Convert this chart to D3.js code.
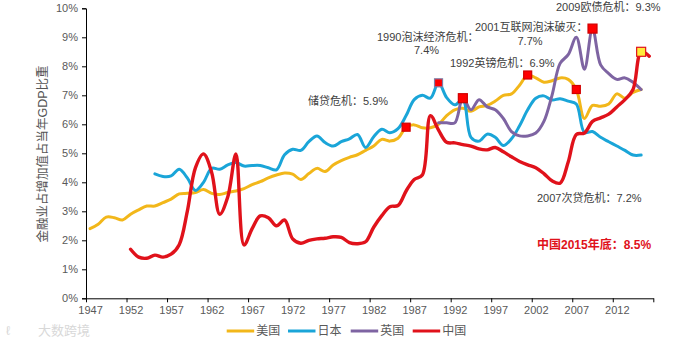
<!DOCTYPE html>
<html><head><meta charset="utf-8">
<script src="https://cdn.jsdelivr.net/npm/d3@7"></script>
<style>
html,body{margin:0;padding:0;background:#fff;}
svg{display:block;}
text{font-family:"Liberation Sans",Arial,"Noto Sans CJK SC",sans-serif;}
.cjk{font-family:"Liberation Sans","Noto Sans CJK SC",sans-serif;}
</style></head>
<body>
<svg id="chart" width="689" height="346"></svg>
<script>
// ---- data ----
const usYears = d3.range(1947, 2016);
const usValues = [2.4,2.55,2.8,2.78,2.7,2.9,3.05,3.18,3.18,3.3,3.42,3.6,3.62,3.65,3.75,3.62,3.58,3.65,3.7,3.78,3.92,4.02,4.15,4.25,4.32,4.28,4.1,4.3,4.48,4.37,4.6,4.75,4.86,4.95,5.1,5.25,5.48,5.42,5.52,5.9,5.98,5.88,5.88,6.0,6.3,6.5,6.55,6.45,6.6,6.65,6.8,7.0,7.05,7.35,7.7,7.6,7.45,7.5,7.6,7.55,7.2,6.2,6.65,6.62,6.7,7.05,6.9,7.1,7.2];
const jpYears = d3.range(1955, 2016);
const jpValues = [4.29,4.2,4.22,4.45,4.15,3.72,4.0,4.48,4.45,4.6,4.68,4.56,4.58,4.58,4.5,4.43,4.95,5.14,5.1,5.4,5.6,5.37,5.25,5.4,5.5,5.65,5.2,5.57,5.83,5.71,5.85,6.3,6.85,7.0,6.9,7.43,6.92,6.67,6.85,5.55,5.42,5.66,5.55,5.27,5.5,5.95,6.5,6.9,6.98,6.84,6.88,6.8,6.7,5.72,5.75,5.55,5.4,5.25,5.1,4.94,4.94];
const ukYears = d3.range(1990, 2016);
const ukValues = [6.05,6.05,6.05,6.9,6.5,6.85,6.6,6.5,6.2,5.75,5.6,5.6,5.7,6.1,7.0,8.1,8.4,9.0,7.9,9.3,8.05,7.75,7.55,7.6,7.45,7.2];
const cnYears = d3.range(1952, 2017);
const cnValues = [1.69,1.42,1.38,1.49,1.42,1.52,1.85,3.0,4.5,4.98,4.35,2.9,3.5,4.98,1.84,2.4,2.84,2.78,2.5,2.7,2.05,1.9,2.0,2.05,2.07,2.12,2.1,1.92,1.88,1.95,2.45,2.85,3.16,3.2,3.7,4.1,4.25,6.3,5.8,5.38,5.36,5.3,5.25,5.15,5.12,5.2,5.05,4.88,4.72,4.6,4.5,4.3,4.05,3.97,4.7,5.65,5.7,6.1,6.22,6.35,6.6,6.85,7.2,8.5,8.35];

const seriesNames = ["美国","日本","英国","中国"];
const seriesColors = ["#F2B71A","#1AA5D8","#7E64A2","#E0121B"];

const xTickLabels = [1947,1952,1957,1962,1967,1972,1977,1982,1987,1992,1997,2002,2007,2012];
const yTickValues = [0,1,2,3,4,5,6,7,8,9,10];

// crisis markers: series index, year
const markerSeries = [0,1,2,0,0,2,3];
const markerYears  = [1986,1990,1993,2001,2007,2009,2015];

const annTexts = ["储贷危机：5.9%","1990泡沫经济危机：","7.4%","1992英镑危机：6.9%","2001互联网泡沫破灭：","7.7%","2009欧债危机：9.3%","2007次贷危机：7.2%"];

// ---- drawing ----
const svg = d3.select("#chart");
const x = d3.scaleLinear().domain([1946.5, 2016.5]).range([86, 653.3]);
const y = d3.scaleLinear().domain([0, 10]).range([298.3, 8.3]);

const all = [
  {years: usYears, values: usValues},
  {years: jpYears, values: jpValues},
  {years: ukYears, values: ukValues},
  {years: cnYears, values: cnValues}
];

// y axis
const yAxis = d3.axisLeft(y).tickValues(yTickValues).tickFormat(d => d + "%").tickSize(4).tickPadding(4);
const gy = svg.append("g").attr("transform","translate(86,0)").call(yAxis);
gy.selectAll("text").attr("font-size",11).attr("fill","#595959");
gy.selectAll("line,path").attr("stroke","#000");

// x axis: ticks at category boundaries, labels at category centres
const boundaries = d3.range(1946.5, 2017, 5);
const xAxis = d3.axisBottom(x).tickValues(boundaries)
  .tickFormat(d => xTickLabels.includes(d + 0.5) ? String(d + 0.5) : "")
  .tickSize(4).tickPadding(4).tickSizeOuter(0);
const gx = svg.append("g").attr("transform","translate(0,298.3)").call(xAxis);
const half = (x(1948) - x(1947)) / 2;
gx.selectAll("text").attr("font-size",11).attr("fill","#595959").attr("dx", half);
gx.selectAll("line,path").attr("stroke","#000");

// y title
svg.append("text").attr("class","cjk")
  .attr("transform","translate(47,154) rotate(-90)")
  .attr("text-anchor","middle").attr("font-size",12.5).attr("fill","#555")
  .text("金融业占增加值占当年GDP比重");

// lines
const line = d3.line().curve(d3.curveCatmullRom.alpha(0.5));
all.forEach((s, i) => {
  const pts = s.years.map((yr, k) => [x(yr), y(s.values[k])]);
  svg.append("path").attr("d", line(pts)).attr("fill","none")
    .attr("stroke", seriesColors[i]).attr("stroke-width", i === 3 ? 3.4 : 3)
    .attr("stroke-linejoin","round").attr("stroke-linecap","round");
});

// markers
markerSeries.forEach((si, k) => {
  const s = all[si];
  const yr = markerYears[k];
  const v = s.values[s.years.indexOf(yr)];
  const big = (yr === 1993 || yr === 2009 || yr === 2015);
  const sz = big ? 9 : 8;
  let fill = "#FF0000", stroke = "#D00000";
  if (yr === 1990) { stroke = "#7E7EA8"; }
  if (yr === 2015) { fill = "#FFEB3B"; stroke = "#E0121B"; }
  svg.append("rect").attr("x", x(yr) - sz/2).attr("y", y(v) - sz/2)
    .attr("width", sz).attr("height", sz).attr("fill", fill)
    .attr("stroke", stroke).attr("stroke-width", 1.2);
});

// annotations
const annX = [308, 377, 426.5, 450, 475, 530, 556, 537];
const annY = [100.7, 37, 50.5, 63.5, 27.3, 40.7, 6.7, 198.3];
const annAnchor = ["start","start","middle","start","start","middle","start","start"];
annTexts.forEach((t, k) => {
  svg.append("text").attr("class","cjk")
    .attr("x", annX[k]).attr("y", annY[k]).attr("dy","0.35em")
    .attr("text-anchor", annAnchor[k])
    .attr("font-size", 11).attr("fill","#404040").text(t);
});
svg.append("text").attr("class","cjk")
  .attr("x", 537).attr("y", 245).attr("dy","0.35em")
  .attr("font-size", 12).attr("font-weight","bold").attr("fill","#E0121B")
  .text("中国2015年底：8.5%");

// legend
const legX = [226.7, 288, 350.7, 412.7];
seriesNames.forEach((n, i) => {
  svg.append("line").attr("x1", legX[i]).attr("x2", legX[i] + 27.5)
    .attr("y1", 331).attr("y2", 331)
    .attr("stroke", seriesColors[i]).attr("stroke-width", 3);
  svg.append("text").attr("class","cjk").attr("x", legX[i] + 29.5).attr("y", 331).attr("dy","0.35em")
    .attr("font-size", 12).attr("fill","#595959").text(n);
});

// watermark
svg.append("text").attr("class","cjk").attr("x", 38).attr("y", 335)
  .attr("font-size", 13).attr("fill","#d8d8d8").text("大数跨境");
svg.append("text").attr("x", 6).attr("y", 335)
  .attr("font-size", 13).attr("fill","#d8d8d8").text("ℓ");
</script>
</body></html>
